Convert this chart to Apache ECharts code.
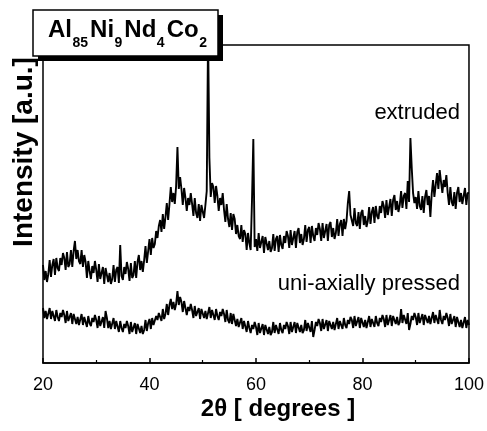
<!DOCTYPE html>
<html>
<head>
<meta charset="utf-8">
<script src="https://cdn.jsdelivr.net/npm/echarts@6/dist/echarts.min.js"></script>
<style>
html,body{margin:0;padding:0;background:#fff;}
#chart{width:487px;height:431px;}
</style>
</head>
<body>
<div id="chart"></div>
<script>
// 2-theta measurement grid (degrees)
const angleStart = 20;
const angleStep = 0.25;
const xTicks = [20, 40, 60, 80, 100];

// Intensity (arbitrary units), one value every 0.25 degree from 20 to 100
const extruded = [
  98,83,92,81, 89,103,86,98, 104,88,105,95, 92,105,98,110, 105,93,111,96,
  99,113,96,112, 122,104,113,102, 99,113,96,108, 101,85,102,92, 84,97,90,102,
  93,81,99,84, 82,96,79,95, 96,81,90,79, 84,98,81,93, 96,80,118,87,
  83,96,89,101, 94,82,100,85, 88,102,85,101, 108,93,102,91, 103,117,100,112,
  124,108,125,115, 119,132,125,137, 143,131,149,134, 146,160,143,159, 176,161,170,159,
  177,216,174,186, 174,158,175,165, 152,165,158,170, 159,147,165,150, 145,159,142,158,
  160,145,158,172, 330,205,166,180, 176,160,177,167, 152,165,158,170, 153,141,159,144,
  136,150,133,149, 144,129,138,127, 124,138,121,133, 129,113,130,120, 113,163,224,116,
  124,112,130,115, 113,127,110,126, 128,113,122,111, 115,129,112,124, 127,111,128,118,
  114,127,120,132, 127,115,133,118, 118,132,115,131, 135,120,129,118, 124,138,121,133,
  136,120,137,127, 122,135,128,140, 134,122,140,125, 125,139,122,138, 141,126,135,124,
  130,144,127,139, 143,127,144,134, 142,160,172,148, 149,137,155,140, 137,151,134,150,
  153,138,147,136, 142,156,139,151, 156,140,157,147, 144,157,150,162, 157,145,163,148,
  150,164,147,163, 168,153,162,151, 158,172,155,167, 170,154,182,161, 225,195,170,160,
  166,154,172,157, 153,167,150,166, 173,158,167,146, 169,183,166,178, 190,174,193,181,
  170,183,176,188, 170,158,176,161, 157,171,154,170, 176,161,170,159, 161,175,158,170,
  170
];
const pressed = [
  55,45,52,44, 45,55,44,52, 52,42,53,46, 42,50,46,53, 48,40,52,42,
  40,50,39,49, 49,39,46,38, 39,49,38,46, 46,36,47,40, 37,45,41,48,
  43,35,47,37, 36,46,35,52, 45,35,42,34, 35,45,34,42, 41,31,42,35,
  31,39,35,42, 37,29,41,31, 30,40,29,39, 40,30,37,29, 33,43,32,40,
  44,34,45,38, 39,47,43,50, 50,42,54,44, 49,59,48,58, 64,54,61,53,
  59,72,58,66, 61,51,62,55, 48,56,52,59, 53,45,57,47, 45,55,44,54,
  55,45,52,44, 46,56,45,53, 53,43,54,47, 43,51,47,54, 49,41,53,43,
  40,50,39,49, 47,37,44,36, 35,45,34,42, 41,31,42,35, 30,38,34,41,
  36,28,40,30, 29,39,28,38, 39,29,36,28, 31,41,30,38, 39,29,40,33,
  30,38,34,41, 37,29,41,31, 31,41,30,40, 41,31,38,30, 33,43,32,40,
  41,31,42,26, 33,41,37,44, 40,32,44,34, 33,43,32,42, 44,34,41,33,
  35,45,34,42, 44,34,45,38, 35,43,39,46, 43,35,47,37, 36,46,35,45,
  46,36,43,35, 37,47,36,44, 46,36,47,40, 37,45,41,48, 44,36,48,38,
  38,48,37,47, 49,39,46,38, 41,54,40,48, 49,39,50,33, 39,47,43,50,
  46,38,50,40, 39,49,38,48, 50,40,47,39, 41,51,40,48, 49,39,53,43,
  39,47,43,50, 45,37,49,39, 37,47,36,46, 46,36,43,35, 36,46,35,43,
  38
];
const seriesNames = ['extruded', 'uni-axially pressed'];
const titleParts = [['Al','85'],['Ni','9'],['Nd','4'],['Co','2']];

function toPairs(vals){ return vals.map((v,i)=>[angleStart + i*angleStep, v]); }

const FONT = '"Liberation Sans", Arial, Helvetica, sans-serif';
const MAIN_FONT = 'bold 24px ' + FONT;
const SUB_FONT = 'bold 14px ' + FONT;
const chart = echarts.init(document.getElementById('chart'), null, {renderer:'canvas'});

// Build the formula title as separate pieces (main text + subscript)
const mctx = document.createElement('canvas').getContext('2d');
function textWidth(t, f){ mctx.font = f; return mctx.measureText(t).width; }
const titleEls = [];
let tx = 48;
titleParts.forEach(p => {
  titleEls.push({type: 'text', z: 102, x: tx, y: 42, style: {text: p[0], font: MAIN_FONT, fill: '#000', textAlign: 'left', textVerticalAlign: 'bottom'}});
  tx += textWidth(p[0], MAIN_FONT) + 0.5;
  titleEls.push({type: 'text', z: 102, x: tx, y: 50, style: {text: p[1], font: SUB_FONT, fill: '#000', textAlign: 'left', textVerticalAlign: 'bottom'}});
  tx += textWidth(p[1], SUB_FONT) + 2;
});

chart.setOption({
  animation: false,
  backgroundColor: '#fff',
  grid: {left: 43, right: 15, top: 45, bottom: 68, show: true, borderColor: '#000', borderWidth: 1.5, backgroundColor: 'transparent'},
  xAxis: {
    type: 'value', min: xTicks[0], max: xTicks[xTicks.length-1], interval: 20,
    axisLine: {show: true, lineStyle: {color: '#000', width: 1.5}},
    axisTick: {show: true, inside: true, length: 5, lineStyle: {color: '#000', width: 1.5}},
    minorTick: {show: true, splitNumber: 2, length: 3, lineStyle: {color: '#000', width: 1.2}},
    splitLine: {show: false},
    axisLabel: {color: '#000', fontSize: 18, fontFamily: FONT, margin: 13, showMaxLabel: true, showMinLabel: true}
  },
  yAxis: {
    type: 'value', min: 0, max: 318,
    axisLine: {show: false}, axisTick: {show: false}, axisLabel: {show: false}, splitLine: {show: false}
  },
  series: [
    {name: seriesNames[0], type: 'line', data: toPairs(extruded), showSymbol: false, symbol: 'none',
     lineStyle: {color: '#000', width: 1.9}, clip: true},
    {name: seriesNames[1], type: 'line', data: toPairs(pressed), showSymbol: false, symbol: 'none',
     lineStyle: {color: '#000', width: 1.9}, clip: true}
  ],
  graphic: [
    {type: 'rect', z: 100, shape: {x: 38, y: 15, width: 185, height: 46}, style: {fill: '#000'}},
    {type: 'rect', z: 101, shape: {x: 33, y: 10, width: 185, height: 46}, style: {fill: '#fff', stroke: '#000', lineWidth: 1.5}}
  ].concat(titleEls).concat([
    {type: 'text', z: 102, x: 24, y: 152, rotation: Math.PI/2, style: {
      text: 'Intensity [a.u.]', font: 'bold 28px ' + FONT, fill: '#000', textAlign: 'center', textVerticalAlign: 'middle'}},
    {type: 'text', z: 102, x: 278, y: 409, style: {
      text: '2θ [ degrees ]', font: 'bold 24px ' + FONT, fill: '#000', textAlign: 'center', textVerticalAlign: 'middle'}},
    {type: 'text', z: 102, x: 460, y: 113, style: {
      text: seriesNames[0], font: '22px ' + FONT, fill: '#000', textAlign: 'right', textVerticalAlign: 'middle'}},
    {type: 'text', z: 102, x: 460, y: 284, style: {
      text: seriesNames[1], font: '22px ' + FONT, fill: '#000', textAlign: 'right', textVerticalAlign: 'middle'}}
  ])
});
</script>
</body>
</html>
